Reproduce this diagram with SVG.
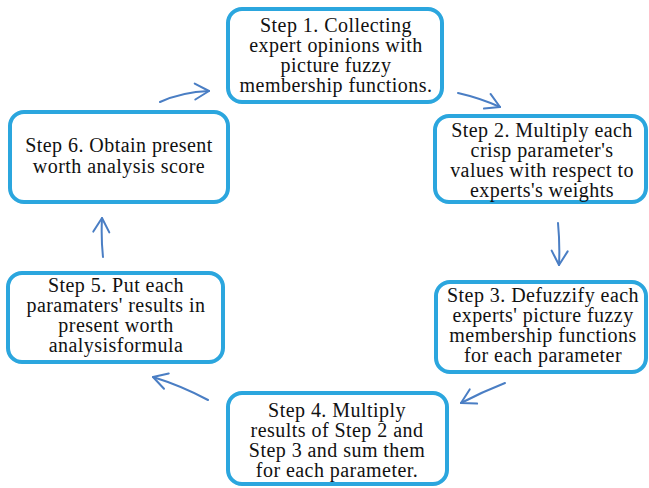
<svg xmlns="http://www.w3.org/2000/svg" width="649" height="488" viewBox="0 0 649 488">
<style>
.box{fill:#fff;stroke:#2ba6de;stroke-width:4}
.t{font-family:"Liberation Serif","Times New Roman",serif;font-size:20px;letter-spacing:0.45px;fill:#111;text-anchor:middle}
.c{fill:none;stroke:#4a7ec4;stroke-width:2;stroke-linecap:round}
</style>
<defs>
<marker id="ah" markerUnits="userSpaceOnUse" markerWidth="30" markerHeight="30" viewBox="-20 -15 30 30" refX="0" refY="0" orient="auto">
<path d="M-14,-8 L0,0 L-14,8" fill="none" stroke="#4a7ec4" stroke-width="2" stroke-linecap="round" stroke-linejoin="round"/>
</marker>
</defs>
<rect width="649" height="488" fill="#fff"/>
<g id="connectors">
<path class="c" d="M160,102 Q182,92 209,91" marker-end="url(#ah)"/>
<path class="c" d="M458,93 Q480,98 500,107" marker-end="url(#ah)"/>
<path class="c" d="M558,223 Q560,244 559,265" marker-end="url(#ah)"/>
<path class="c" d="M505,383 Q482,392 461,403" marker-end="url(#ah)"/>
<path class="c" d="M208,400 Q182,386 153,377" marker-end="url(#ah)"/>
<path class="c" d="M103,257 Q101,238 102,218" marker-end="url(#ah)"/>
</g>
<g id="step1">
<rect class="box" x="228" y="9" width="214" height="93" rx="14"/>
<text class="t" x="336" y="32">Step 1. Collecting</text>
<text class="t" x="336" y="52">expert opinions with</text>
<text class="t" x="336" y="72">picture fuzzy</text>
<text class="t" x="336" y="92">membership functions.</text>
</g>
<g id="step2">
<rect class="box" x="435" y="116" width="211" height="86" rx="14"/>
<text class="t" x="542" y="137">Step 2. Multiply each</text>
<text class="t" x="542" y="157">crisp parameter's</text>
<text class="t" x="542" y="177">values with respect to</text>
<text class="t" x="542" y="197">experts's weights</text>
</g>
<g id="step3">
<rect class="box" x="436" y="282" width="210" height="90" rx="14"/>
<text class="t" x="543" y="302">Step 3. Defuzzify each</text>
<text class="t" x="543" y="322">experts' picture fuzzy</text>
<text class="t" x="543" y="342">membership functions</text>
<text class="t" x="543" y="362">for each parameter</text>
</g>
<g id="step4">
<rect class="box" x="228" y="393" width="219" height="91" rx="14"/>
<text class="t" x="337" y="417">Step 4. Multiply</text>
<text class="t" x="337" y="437">results of Step 2 and</text>
<text class="t" x="337" y="457">Step 3 and sum them</text>
<text class="t" x="337" y="477">for each parameter.</text>
</g>
<g id="step5">
<rect class="box" x="8" y="273" width="215" height="89" rx="14"/>
<text class="t" x="116" y="292">Step 5. Put each</text>
<text class="t" x="116" y="312">paramaters' results in</text>
<text class="t" x="116" y="332">present worth</text>
<text class="t" x="116" y="352">analysisformula</text>
</g>
<g id="step6">
<rect class="box" x="10" y="112" width="218" height="90" rx="14"/>
<text class="t" x="119" y="152">Step 6. Obtain present</text>
<text class="t" x="119" y="173">worth analysis score</text>
</g>
</svg>
